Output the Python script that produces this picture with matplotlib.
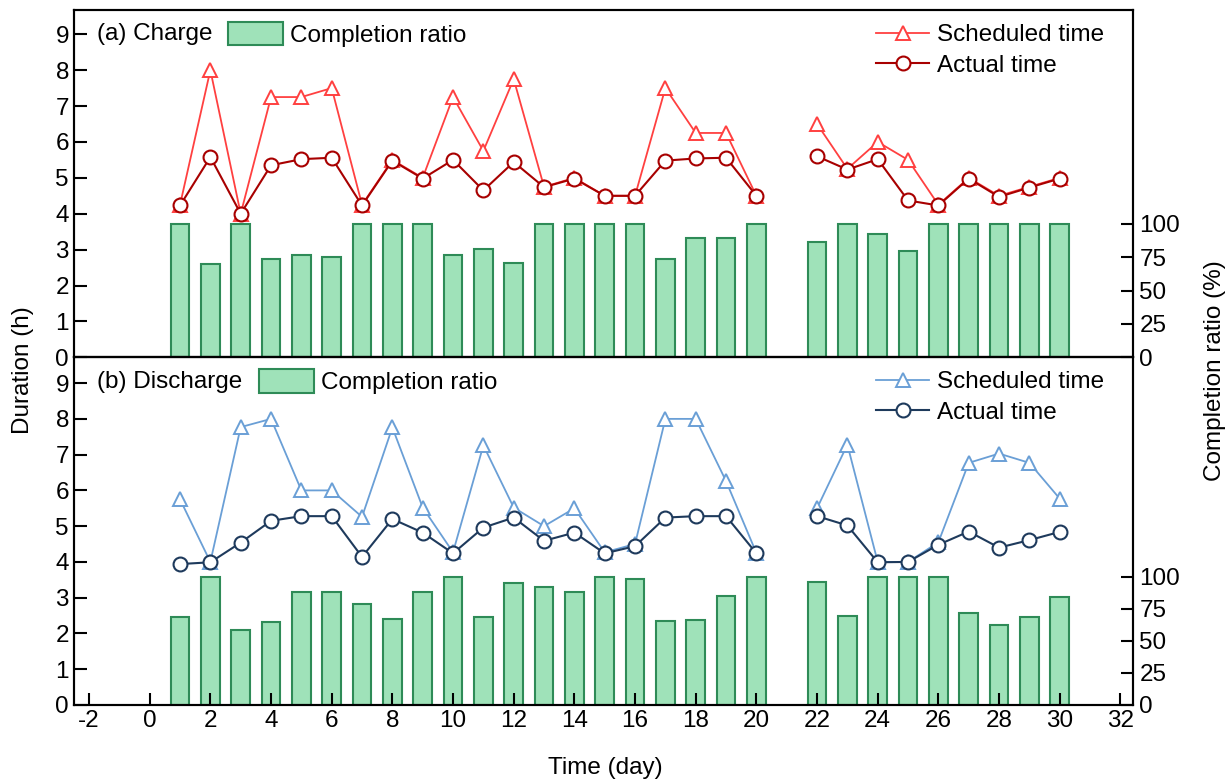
import matplotlib.pyplot as plt
from matplotlib.patches import Patch
from matplotlib.lines import Line2D

plt.rcParams['font.family'] = ['Liberation Sans', 'DejaVu Sans']
plt.rcParams['font.size'] = 17.5
plt.rcParams['axes.unicode_minus'] = False

# day 21 has no record
days = [1, 2, 3, 4, 5, 6, 7, 8, 9, 10, 11, 12, 13, 14, 15, 16, 17, 18, 19, 20,
        22, 23, 24, 25, 26, 27, 28, 29, 30]

charge_sched = [4.25, 8.0, 4.0, 7.25, 7.25, 7.5, 4.25, 5.5, 5.0, 7.25, 5.75, 7.75, 4.75, 5.0,
                4.5, 4.5, 7.5, 6.25, 6.25, 4.5, 6.5, 5.25, 6.0, 5.5, 4.25, 5.0, 4.5, 4.75, 5.0]
charge_actual = [4.23, 5.58, 4.0, 5.35, 5.52, 5.56, 4.23, 5.48, 4.98, 5.5, 4.65, 5.44, 4.74, 4.98,
                 4.5, 4.5, 5.48, 5.54, 5.56, 4.5, 5.6, 5.23, 5.52, 4.37, 4.23, 4.98, 4.47, 4.73, 4.98]
charge_ratio = [100, 70, 100, 74, 77, 75, 100, 100, 100, 76.5, 81.4, 70.4, 100, 100,
                100, 100, 73.4, 89.2, 89.7, 100, 86.7, 100, 92.5, 79.9, 100, 100, 100, 100, 100]

discharge_sched = [5.75, 4.0, 7.77, 8.0, 6.0, 6.0, 5.26, 7.76, 5.52, 4.27, 7.26, 5.52, 5.0, 5.5,
                   4.27, 4.5, 8.0, 8.0, 6.26, 4.25, 5.5, 7.28, 4.0, 4.0, 4.55, 6.77, 7.03, 6.77, 5.77]
discharge_actual = [3.94, 3.99, 4.54, 5.15, 5.28, 5.28, 4.14, 5.2, 4.82, 4.24, 4.96, 5.24, 4.59, 4.82,
                    4.24, 4.44, 5.24, 5.28, 5.28, 4.24, 5.28, 5.02, 3.99, 4.0, 4.48, 4.85, 4.4, 4.61, 4.84]
discharge_ratio = [68.6, 100, 58.7, 64.4, 88.1, 88.1, 79.0, 67.3, 87.8, 100, 68.3, 95.3, 92.0, 88.1,
                   100, 98.4, 65.5, 66.0, 84.7, 100, 96.1, 69.4, 100, 100, 99.5, 71.7, 62.6, 68.3, 84.2]


def split(x, y):
    # break the line where a day is missing
    segs = []
    cur_x, cur_y = [x[0]], [y[0]]
    for i in range(1, len(x)):
        if x[i] - x[i - 1] > 1:
            segs.append((cur_x, cur_y))
            cur_x, cur_y = [], []
        cur_x.append(x[i])
        cur_y.append(y[i])
    segs.append((cur_x, cur_y))
    return segs


bar_face = '#9fe2b9'
bar_edge = '#2e8b57'

fig = plt.figure(figsize=(12.31, 7.82), dpi=100)
left, right = 0.060, 0.920
ax_top = fig.add_axes([left, 0.543, right - left, 0.987 - 0.543])
ax_bot = fig.add_axes([left, 0.0985, right - left, 0.543 - 0.0985])

panels = [
    (ax_top, '(a) Charge', 0.1455, charge_sched, charge_actual, charge_ratio, '#ff4040', '#a80000', 9.67, 260),
    (ax_bot, '(b) Discharge', 0.175, discharge_sched, discharge_actual, discharge_ratio, '#6a9fd6', '#1e3a5c', 9.72, 271),
]

for ax, title, leg_x, sched, actual, ratio, c_s, c_a, ytop, rtop in panels:
    ax2 = ax.twinx()
    ax2.bar(days, ratio, width=0.62, color=bar_face, edgecolor=bar_edge, linewidth=1.5)
    ax2.set_ylim(0, rtop)
    ax2.set_yticks([0, 25, 50, 75, 100])
    ax2.tick_params(axis='y', direction='in', length=9, width=1.5, pad=5)
    for s in ax2.spines.values():
        s.set_linewidth(1.5)

    ax.set_zorder(ax2.get_zorder() + 1)
    ax.patch.set_visible(False)

    for xs, ys in split(days, sched):
        ax.plot(xs, ys, color=c_s, lw=1.3, marker='^', ms=10, mfc='white', mec=c_s, mew=1.4)
    for xs, ys in split(days, actual):
        ax.plot(xs, ys, color=c_a, lw=1.5, marker='o', ms=10, mfc='white', mec=c_a, mew=1.5)

    ax.set_xlim(-2.5, 32.4)
    ax.set_ylim(0, ytop)
    ax.set_yticks(range(0, 10))
    ax.set_xticks(range(-2, 33, 2))
    ax.tick_params(direction='in', length=9, width=1.5)
    for s in ax.spines.values():
        s.set_linewidth(1.5)

    ax.text(0.022, 0.93, title, transform=ax.transAxes, va='center', ha='left')

    bar_leg = ax.legend(handles=[Patch(facecolor=bar_face, edgecolor=bar_edge, linewidth=1.5)],
                        labels=['Completion ratio'], loc='center left',
                        bbox_to_anchor=(leg_x, 0.93), frameon=False,
                        handlelength=2.25, handleheight=1.1, handletextpad=0.3,
                        borderaxespad=0, borderpad=0)
    ax.add_artist(bar_leg)

    line_handles = [
        Line2D([], [], color=c_s, lw=1.3, marker='^', ms=10, mfc='white', mec=c_s, mew=1.4),
        Line2D([], [], color=c_a, lw=1.5, marker='o', ms=10, mfc='white', mec=c_a, mew=1.5),
    ]
    ax.legend(handles=line_handles, labels=['Scheduled time', 'Actual time'],
              loc='upper left', bbox_to_anchor=(0.7575, 0.96), frameon=False,
              handlelength=2.2, handletextpad=0.3, labelspacing=0.35,
              borderaxespad=0, borderpad=0)

ax_top.tick_params(axis='x', length=0, labelbottom=False)

fig.text(0.019, 0.527, 'Duration (h)', rotation=90, va='center', ha='center')
fig.text(0.987, 0.526, 'Completion ratio (%)', rotation=90, va='center', ha='center')
fig.text(0.4915, 0.018, 'Time (day)', va='center', ha='center')

fig.savefig('out.png', dpi=100)
